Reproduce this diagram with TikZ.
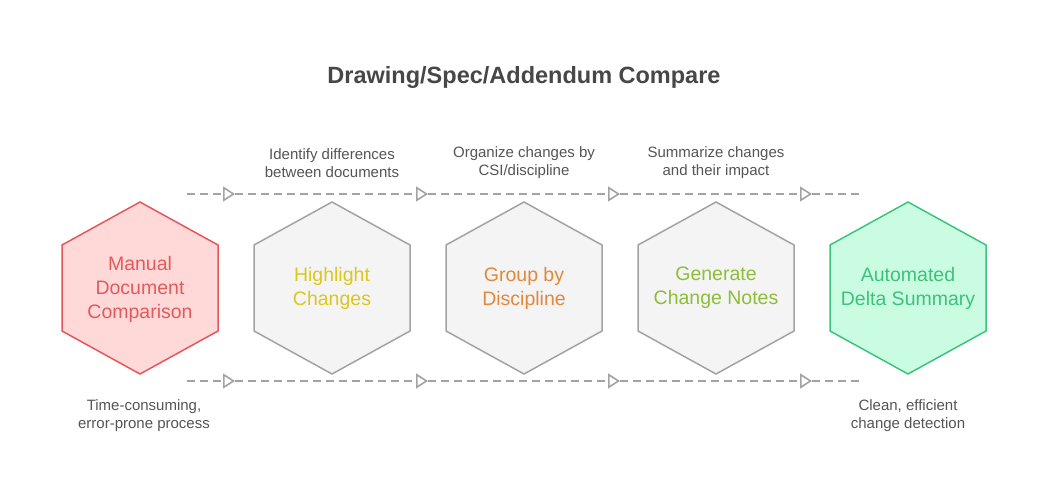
\documentclass[tikz,border=0pt]{standalone}
\usepackage{fontspec}
\setmainfont{Liberation Sans}
\usetikzlibrary{arrows.meta,calc}
\definecolor{txtgray}{HTML}{555555}
\definecolor{titlegray}{HTML}{474747}
\definecolor{linegray}{HTML}{A3A3A3}
\definecolor{hexgray}{HTML}{F4F4F4}
\definecolor{redfill}{HTML}{FFD8D8}
\definecolor{redline}{HTML}{E5575A}
\definecolor{redtxt}{HTML}{E45A5C}
\definecolor{yeltxt}{HTML}{DCC71C}
\definecolor{orgtxt}{HTML}{E0893A}
\definecolor{lgrtxt}{HTML}{8FBD3A}
\definecolor{grnfill}{HTML}{C9FCE1}
\definecolor{grnline}{HTML}{3CC47E}
\definecolor{grntxt}{HTML}{3DC27D}
\tikzset{
  hexlabel/.style={align=center,font=\fontsize{19.5}{24}\selectfont,inner sep=0pt},
  smalllabel/.style={align=center,font=\fontsize{15}{18}\selectfont,text=txtgray,inner sep=0pt},
  flowline/.style={draw=linegray,line width=1.6pt,dash pattern=on 8pt off 5pt},
  flowarrow/.style={flowline,-{Triangle[open,length=12pt,width=15pt,line width=1.6pt]}},
  hexbox/.style={line width=1.5pt,line join=miter}
}
\newcommand{\hexpath}[1]{($(#1)+(0,-86)$) -- ($(#1)+(78,-43)$) -- ($(#1)+(78,43)$) -- ($(#1)+(0,86)$) -- ($(#1)+(-78,43)$) -- ($(#1)+(-78,-43)$) -- cycle}
\begin{document}
\begin{tikzpicture}[x=1pt,y=-1pt]
\useasboundingbox[fill=white] (0,0) rectangle (1048,492);
% centres
\coordinate (c1) at (140,288);
\coordinate (c2) at (332,288);
\coordinate (c3) at (524,288);
\coordinate (c4) at (716,288);
\coordinate (c5) at (908,288);
% hexagons
\draw[hexbox,fill=redfill,draw=redline] \hexpath{c1};
\draw[hexbox,fill=hexgray,draw=linegray] \hexpath{c2};
\draw[hexbox,fill=hexgray,draw=linegray] \hexpath{c3};
\draw[hexbox,fill=hexgray,draw=linegray] \hexpath{c4};
\draw[hexbox,fill=grnfill,draw=grnline] \hexpath{c5};
\node[hexlabel,text=redtxt] (h1) at (140,289) {Manual\\Document\\Comparison};
\node[hexlabel,text=yeltxt] (h2) at (c2) {Highlight\\Changes};
\node[hexlabel,text=orgtxt] (h3) at (c3) {Group by\\Discipline};
\node[hexlabel,text=lgrtxt] (h4) at (c4) {Generate\\Change Notes};
\node[hexlabel,text=grntxt] (h5) at (c5) {Automated\\Delta Summary};
% title
\node[font=\fontsize{23.5}{28}\selectfont\bfseries,text=titlegray] (title) at (524,77) {Drawing/Spec/Addendum Compare};
% arrow points
\coordinate (ts) at (187,194);
\coordinate (t1) at (235,194);
\coordinate (t2) at (428,194);
\coordinate (t3) at (620,194);
\coordinate (t4) at (812,194);
\coordinate (te) at (860,194);
\coordinate (bs) at (187,381);
\coordinate (b1) at (235,381);
\coordinate (b2) at (428,381);
\coordinate (b3) at (620,381);
\coordinate (b4) at (812,381);
\coordinate (be) at (860,381);
\draw[flowarrow] (ts) -- (t1);
\draw[flowarrow] (t1) -- (t2);
\draw[flowarrow] (t2) -- (t3);
\draw[flowarrow] (t3) -- (t4);
\draw[flowline] (t4) -- (te);
\draw[flowarrow] (bs) -- (b1);
\draw[flowarrow] (b1) -- (b2);
\draw[flowarrow] (b2) -- (b3);
\draw[flowarrow] (b3) -- (b4);
\draw[flowline] (b4) -- (be);
% labels
\node[smalllabel] (l1) at (332,163) {Identify differences\\between documents};
\node[smalllabel] (l2) at (524,163) {Organize changes by\\CSI/discipline};
\node[smalllabel] (l3) at (716,163) {Summarize changes\\and their impact};
\node[smalllabel] (l4) at (144,416) {Time-consuming,\\error-prone process};
\node[smalllabel] (l5) at (908,416) {Clean, efficient\\change detection};
\end{tikzpicture}
\end{document}
